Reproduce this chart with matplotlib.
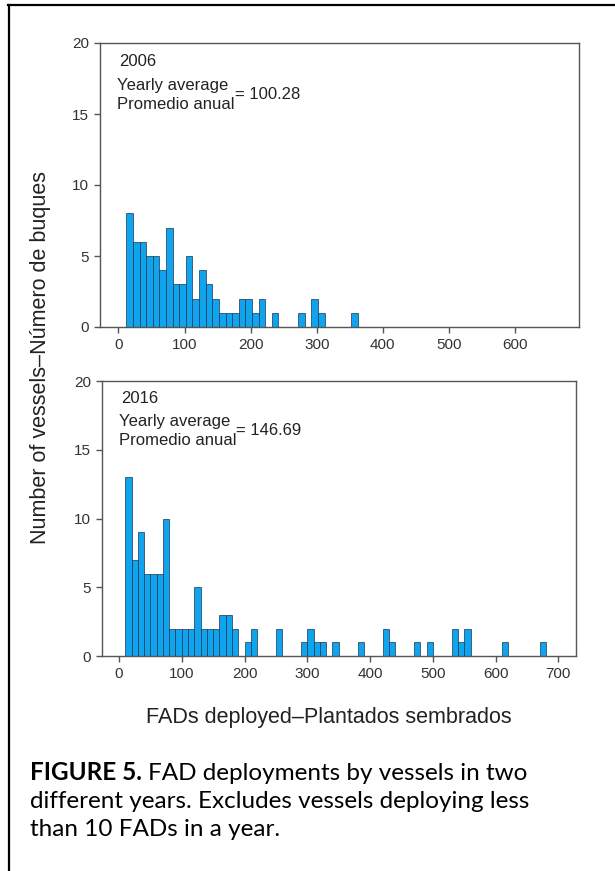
import matplotlib.pyplot as plt
from matplotlib.lines import Line2D

plt.rcParams['font.family'] = ['Liberation Sans', 'DejaVu Sans']

# histogram counts, bins 10 FADs wide
bin_width = 10
start_2006 = 12
counts_2006 = [8, 6, 6, 5, 5, 4, 7, 3, 3, 5, 2, 4, 3, 2, 1, 1, 1, 2, 2, 1,
               2, 0, 1, 0, 0, 0, 1, 0, 2, 1, 0, 0, 0, 0, 1]
start_2016 = 10
counts_2016 = [13, 7, 9, 6, 6, 6, 10, 2, 2, 2, 2, 5, 2, 2, 2, 3, 3, 2, 0, 1,
               2, 0, 0, 0, 2, 0, 0, 0, 1, 2, 1, 1, 0, 1, 0, 0, 0, 1, 0, 0,
               0, 2, 1, 0, 0, 0, 1, 0, 1, 0, 0, 0, 2, 1, 2, 0, 0, 0, 0, 0,
               1, 0, 0, 0, 0, 0, 1]
years = ['2006', '2016']
averages = ['100.28', '146.69']
xticks_2006 = [0, 100, 200, 300, 400, 500, 600]
xticks_2016 = [0, 100, 200, 300, 400, 500, 600, 700]
yticks = [0, 5, 10, 15, 20]

W, H = 615, 871
fig = plt.figure(figsize=(W / 100, H / 100), dpi=100)


def fx(px):
    return px / W


def fy(py):
    return 1 - py / H


def panel(box, start, counts, xticks, xlim, year, avg):
    left, top, right, bottom = box
    ax = fig.add_axes([fx(left), fy(bottom), fx(right) - fx(left), fy(top) - fy(bottom)])
    edges = [start + bin_width * i for i in range(len(counts))]
    ax.bar(edges, counts, width=bin_width, align='edge', color='#10A4EE',
           edgecolor='#1B3552', linewidth=0.5)
    ax.set_xlim(*xlim)
    ax.set_ylim(0, 20)
    ax.set_xticks(xticks)
    ax.set_yticks(yticks)
    for s in ax.spines.values():
        s.set_color('#555555')
        s.set_linewidth(1.0)
    ax.tick_params(direction='out', length=4, width=1, color='#555555',
                   labelsize=11, labelcolor='#333333', pad=4)
    ax.text(0.04, 0.935, year, transform=ax.transAxes, fontsize=12,
            color='#222222', va='center')
    ax.text(0.035, 0.852, 'Yearly average', transform=ax.transAxes,
            fontsize=12, color='#222222', va='center')
    ax.text(0.035, 0.785, 'Promedio anual', transform=ax.transAxes,
            fontsize=12, color='#222222', va='center')
    ax.text(0.282, 0.82, '= ' + avg, transform=ax.transAxes, fontsize=12,
            color='#222222', va='center')
    return ax


panel((100, 43, 579, 327), start_2006, counts_2006, xticks_2006, (-28, 697),
      years[0], averages[0])
panel((102, 381, 576, 656), start_2016, counts_2016, xticks_2016, (-27, 728),
      years[1], averages[1])

fig.text(fx(41), fy(358), 'Number of vessels\u2013N\u00famero de buques',
         rotation=90, ha='center', va='center', fontsize=15.5, color='#222222')
fig.text(fx(329), fy(718), 'FADs deployed\u2013Plantados sembrados',
         ha='center', va='center', fontsize=15.5, color='#222222')

# caption below the chart
cap_size = 17.5
t = fig.text(fx(30), fy(780), 'FIGURE 5.', family='Lato', weight='bold',
             fontsize=cap_size, va='baseline', color='black')
fig.canvas.draw()
bb = t.get_window_extent()
fig.text((bb.x1 + 6) / W, fy(780), 'FAD deployments by vessels in two',
         family='Lato', fontsize=cap_size, va='baseline', color='black')
fig.text(fx(30), fy(808), 'different years. Excludes vessels deploying less',
         family='Lato', fontsize=cap_size, va='baseline', color='black')
fig.text(fx(30), fy(836), 'than 10 FADs in a year.',
         family='Lato', fontsize=cap_size, va='baseline', color='black')

# page frame (top and left edges)
fig.add_artist(Line2D([fx(8), 1], [fy(5.5), fy(5.5)], color='black', lw=1.6))
fig.add_artist(Line2D([fx(8.5), fx(8.5)], [fy(5), 0], color='black', lw=1.6))

fig.savefig('out.png', dpi=100)
